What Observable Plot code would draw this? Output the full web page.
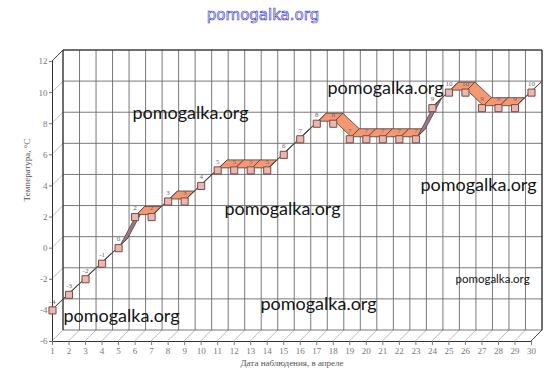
<!DOCTYPE html>
<html>
<head>
<meta charset="utf-8">
<script src="https://cdn.jsdelivr.net/npm/d3@7"></script>
<script src="https://cdn.jsdelivr.net/npm/@observablehq/plot@0.6"></script>
<style>
  html, body { margin: 0; padding: 0; background: #fff; }
</style>
</head>
<body>
<div id="chart"></div>
<script>
// Day of April and observed temperature (°C)
const days  = [1, 2, 3, 4, 5, 6, 7, 8, 9, 10, 11, 12, 13, 14, 15, 16, 17, 18, 19, 20, 21, 22, 23, 24, 25, 26, 27, 28, 29, 30];
const temps = [-4, -3, -2, -1, 0, 2, 2, 3, 3, 4, 5, 5, 5, 5, 6, 7, 8, 8, 7, 7, 7, 7, 7, 9, 10, 10, 9, 9, 9, 10];
const yTicks = [-6, -4, -2, 0, 2, 4, 6, 8, 10, 12];

const xTitle = "Дата наблюдения, в апреле";
const yTitle = "Температура, °С";
const watermark = "pomogalka.org";

const data = days.map((d, i) => ({day: d, temp: temps[i]}));

const DEPTH = 11;

// 3D walls: floor, side wall and back wall grid
function walls(index, scales) {
  const {x, y} = scales;
  const g = d3.create("svg:g").attr("fill", "none");
  const xl = x(days[0]), xr = x(days[days.length - 1]);
  const yb = y(yTicks[0]), yt = y(yTicks[yTicks.length - 1]);
  const line = (x1, y1, x2, y2, stroke, w = 1) =>
    g.append("line").attr("x1", x1).attr("y1", y1).attr("x2", x2).attr("y2", y2)
      .attr("stroke", stroke).attr("stroke-width", w);
  for (const d of days) line(x(d), yb, x(d) + DEPTH, yb - DEPTH, "#bbb");
  for (const t of yTicks) line(xl, y(t), xl + DEPTH, y(t) - DEPTH, "#bbb");
  for (const d of days) line(x(d) + DEPTH, yt - DEPTH, x(d) + DEPTH, yb - DEPTH, "#6a6a6a", 0.9);
  for (const t of yTicks) line(xl + DEPTH, y(t) - DEPTH, xr + DEPTH, y(t) - DEPTH, "#6a6a6a", 0.9);
  line(xl, yt, xl + DEPTH, yt - DEPTH, "#444");
  line(xr, yb, xr + DEPTH, yb - DEPTH, "#444");
  line(xl + DEPTH, yt - DEPTH, xr + DEPTH, yt - DEPTH, "#222");
  line(xl + DEPTH, yt - DEPTH, xl + DEPTH, yb - DEPTH, "#222");
  line(xr + DEPTH, yt - DEPTH, xr + DEPTH, yb - DEPTH, "#222");
  return g.node();
}

// 3D ribbon of the line series
function ribbon(index, scales) {
  const {x, y} = scales;
  const g = d3.create("svg:g");
  const F = 2, B = 10;
  for (let i = 0; i < days.length - 1; i++) {
    const ax = x(days[i]), ay = y(temps[i]);
    const bx = x(days[i + 1]), by = y(temps[i + 1]);
    const top = (bx - ax) + (by - ay) > 0;
    const pts = [[ax + F, ay - F], [bx + F, by - F], [bx + B, by - B], [ax + B, ay - B]];
    g.append("polygon")
      .attr("points", pts.map(p => p.join(",")).join(" "))
      .attr("fill", top ? "#f59872" : "#9d7b86")
      .attr("stroke", "#4a3a36")
      .attr("stroke-width", 0.8)
      .attr("stroke-linejoin", "round");
  }
  return g.node();
}

const wm = (px, py, size = 18) => Plot.text([watermark], {
  frameAnchor: "top-left", dx: px - 52, dy: py - 61,
  textAnchor: "start", fontSize: size, fontFamily: "Lato", fill: "#141414"
});

const chart = Plot.plot({
  width: 556,
  height: 384,
  marginLeft: 52,
  marginRight: 25,
  marginTop: 61,
  marginBottom: 43,
  style: {background: "#fff", overflow: "visible"},
  x: {domain: [days[0], days[days.length - 1]]},
  y: {domain: [yTicks[0], yTicks[yTicks.length - 1]]},
  marks: [
    walls,
    Plot.ruleX([days[0]], {stroke: "#333"}),
    Plot.ruleY([yTicks[0]], {stroke: "#333"}),
    Plot.axisY(yTicks, {tickSize: 3, tickPadding: 2, fontSize: 9, fontFamily: "Liberation Serif", color: "#777", tickFormat: d => String(d), label: null}),
    Plot.axisX(days, {tickSize: 4, tickPadding: 2, fontSize: 9, fontFamily: "Liberation Serif", color: "#777", tickFormat: d => String(d), label: null}),
    ribbon,
    Plot.dot(data, {x: "day", y: "temp", symbol: "square", r: 4, fill: "#e7b9b2", stroke: "#7a4842", strokeWidth: 1}),
    Plot.text(data, {x: "day", y: "temp", text: d => String(d.temp), dy: -9, fontSize: 7, fontFamily: "Liberation Serif", fill: "#666"}),
    Plot.text([yTitle], {frameAnchor: "left", dx: -25, rotate: -90, fontSize: 9, fontFamily: "Liberation Serif", fill: "#555"}),
    Plot.text([xTitle], {frameAnchor: "bottom", dy: 24, fontSize: 9, fontFamily: "Liberation Serif", fill: "#555"}),
    Plot.text([watermark], {frameAnchor: "top", dx: -29, dy: -52, fontSize: 15, fontFamily: "DejaVu Sans", fill: "#fff", stroke: "#2a2ad0", strokeWidth: 0.6, paintOrder: "fill"}),
    wm(132, 106),
    wm(327, 81),
    wm(420, 178),
    wm(224, 202),
    wm(455, 274, 11.5),
    wm(260, 297),
    wm(63, 309)
  ]
});

document.getElementById("chart").appendChild(chart);
</script>
</body>
</html>
